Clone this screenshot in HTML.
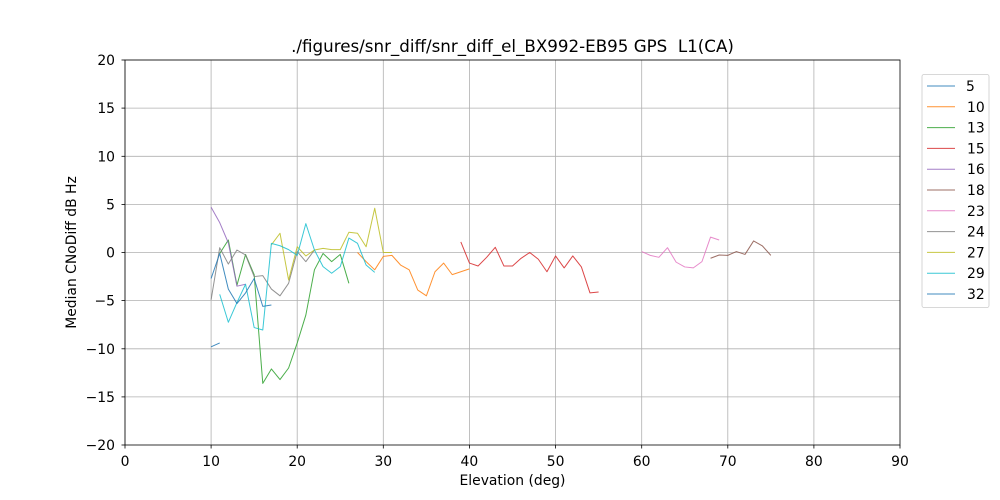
<!DOCTYPE html>
<html><head><meta charset="utf-8"><style>
html,body{margin:0;padding:0;background:#fff;}
svg{display:block;font-family:"DejaVu Sans","Liberation Sans",sans-serif;}
</style></head><body>
<svg width="1000" height="500" viewBox="0 0 1000 500" xmlns="http://www.w3.org/2000/svg">
<rect width="1000" height="500" fill="#fff"/>
<g stroke="#b0b0b0" stroke-width="0.8">
<line x1="125" y1="60" x2="125" y2="445"/>
<line x1="211.1" y1="60" x2="211.1" y2="445"/>
<line x1="297.2" y1="60" x2="297.2" y2="445"/>
<line x1="383.3" y1="60" x2="383.3" y2="445"/>
<line x1="469.4" y1="60" x2="469.4" y2="445"/>
<line x1="555.6" y1="60" x2="555.6" y2="445"/>
<line x1="641.7" y1="60" x2="641.7" y2="445"/>
<line x1="727.8" y1="60" x2="727.8" y2="445"/>
<line x1="813.9" y1="60" x2="813.9" y2="445"/>
<line x1="125" y1="60" x2="900" y2="60"/>
<line x1="125" y1="108.1" x2="900" y2="108.1"/>
<line x1="125" y1="156.3" x2="900" y2="156.3"/>
<line x1="125" y1="204.4" x2="900" y2="204.4"/>
<line x1="125" y1="252.5" x2="900" y2="252.5"/>
<line x1="125" y1="300.6" x2="900" y2="300.6"/>
<line x1="125" y1="348.8" x2="900" y2="348.8"/>
<line x1="125" y1="396.9" x2="900" y2="396.9"/>
</g>
<g transform="translate(125,252.5) scale(8.6111,-9.625)" fill="none" stroke-width="1" stroke-opacity="0.85" stroke-linejoin="round">
<polyline vector-effect="non-scaling-stroke" stroke="#1f77b4" points="10,-9.8 11,-9.4"/>
<polyline vector-effect="non-scaling-stroke" stroke="#ff7f0e" points="27,0 28,-0.95 29,-1.8 30,-0.4 31,-0.3 32,-1.3 33,-1.8 34,-3.9 35,-4.5 36,-2.0 37,-1.1 38,-2.3 39,-2.0 40,-1.7"/>
<polyline vector-effect="non-scaling-stroke" stroke="#2ca02c" points="11,-0.1 12,1.3 13,-3.4 14,-0.2 15,-2.3 16,-13.6 17,-12.1 18,-13.2 19,-12.0 20,-9.4 21,-6.5 22,-1.8 23,-0.1 24,-0.95 25,-0.2 26,-3.2"/>
<polyline vector-effect="non-scaling-stroke" stroke="#d62728" points="39,1.1 40,-1.1 41,-1.4 42,-0.5 43,0.54 44,-1.4 45,-1.4 46,-0.6 47,0 48,-0.7 49,-2.0 50,-0.36 51,-1.6 52,-0.36 53,-1.5 54,-4.2 55,-4.1"/>
<polyline vector-effect="non-scaling-stroke" stroke="#9467bd" points="10,4.7 11,3.1 12,1.0 13,-3.5 14,-3.3"/>
<polyline vector-effect="non-scaling-stroke" stroke="#8c564b" points="68,-0.6 69,-0.26 70,-0.3 71,0.1 72,-0.2 73,1.2 74,0.7 75,-0.3"/>
<polyline vector-effect="non-scaling-stroke" stroke="#e377c2" points="60,0.1 61,-0.3 62,-0.5 63,0.5 64,-1.0 65,-1.5 66,-1.6 67,-0.95 68,1.6 69,1.3"/>
<polyline vector-effect="non-scaling-stroke" stroke="#7f7f7f" points="10,-4.9 11,0.5 12,-1.2 13,0.26 14,-0.26 15,-2.5 16,-2.4 17,-3.8 18,-4.5 19,-3.2 20,0.1 21,-0.95 22,0.26"/>
<polyline vector-effect="non-scaling-stroke" stroke="#bcbd22" points="17,0.8 18,2.0 19,-2.86 20,0.6 21,-0.36 22,0.26 23,0.43 24,0.3 25,0.3 26,2.1 27,2.0 28,0.6 29,4.6 30,0 31,0"/>
<polyline vector-effect="non-scaling-stroke" stroke="#17becf" points="11,-4.35 12,-7.25 13,-5.2 14,-3.3 15,-7.8 16,-8.05 17,0.95 18,0.7 19,0.3 20,-0.3 21,3.0 22,0.26 23,-1.47 24,-2.16 25,-1.47 26,1.5 27,0.95 28,-1.3 29,-2.06"/>
<polyline vector-effect="non-scaling-stroke" stroke="#1f77b4" points="10,-2.7 11,-0.1 12,-3.8 13,-5.3 14,-4.2 15,-2.7 16,-5.6 17,-5.45"/>
</g>
<rect x="125" y="60" width="775" height="385" fill="none" stroke="#000" stroke-width="0.8"/>
<g stroke="#000" stroke-width="0.8">
<line x1="125" y1="445" x2="125" y2="448.5"/>
<line x1="211.1" y1="445" x2="211.1" y2="448.5"/>
<line x1="297.2" y1="445" x2="297.2" y2="448.5"/>
<line x1="383.3" y1="445" x2="383.3" y2="448.5"/>
<line x1="469.4" y1="445" x2="469.4" y2="448.5"/>
<line x1="555.6" y1="445" x2="555.6" y2="448.5"/>
<line x1="641.7" y1="445" x2="641.7" y2="448.5"/>
<line x1="727.8" y1="445" x2="727.8" y2="448.5"/>
<line x1="813.9" y1="445" x2="813.9" y2="448.5"/>
<line x1="900" y1="445" x2="900" y2="448.5"/>
<line x1="121.5" y1="60" x2="125" y2="60"/>
<line x1="121.5" y1="108.1" x2="125" y2="108.1"/>
<line x1="121.5" y1="156.3" x2="125" y2="156.3"/>
<line x1="121.5" y1="204.4" x2="125" y2="204.4"/>
<line x1="121.5" y1="252.5" x2="125" y2="252.5"/>
<line x1="121.5" y1="300.6" x2="125" y2="300.6"/>
<line x1="121.5" y1="348.8" x2="125" y2="348.8"/>
<line x1="121.5" y1="396.9" x2="125" y2="396.9"/>
<line x1="121.5" y1="445" x2="125" y2="445"/>
</g>
<g font-size="13.9" fill="#000" text-anchor="middle">
<text x="125" y="466">0</text>
<text x="211.1" y="466">10</text>
<text x="297.2" y="466">20</text>
<text x="383.3" y="466">30</text>
<text x="469.4" y="466">40</text>
<text x="555.6" y="466">50</text>
<text x="641.7" y="466">60</text>
<text x="727.8" y="466">70</text>
<text x="813.9" y="466">80</text>
<text x="900" y="466">90</text>
</g>
<g font-size="13.9" fill="#000" text-anchor="end">
<text x="115" y="65">20</text>
<text x="115" y="113.1">15</text>
<text x="115" y="161.3">10</text>
<text x="115" y="209.4">5</text>
<text x="115" y="257.5">0</text>
<text x="115" y="305.6">−5</text>
<text x="115" y="353.8">−10</text>
<text x="115" y="401.9">−15</text>
<text x="115" y="450">−20</text>
</g>
<text x="512.5" y="485" font-size="13.9" text-anchor="middle">Elevation (deg)</text>
<text transform="translate(76,252.5) rotate(-90)" font-size="13.9" text-anchor="middle">Median CNoDiff dB Hz</text>
<text x="512.5" y="52" font-size="16.7" text-anchor="middle" style="white-space:pre" xml:space="preserve">./figures/snr_diff/snr_diff_el_BX992-EB95 GPS  L1(CA)</text>
<rect x="922" y="74.5" width="67" height="233" rx="2" fill="#fff" fill-opacity="0.8" stroke="#cccccc" stroke-width="0.8"/>
<g stroke-width="1" stroke-opacity="0.85">
<line x1="927" y1="86" x2="955" y2="86" stroke="#1f77b4"/>
<line x1="927" y1="106.8" x2="955" y2="106.8" stroke="#ff7f0e"/>
<line x1="927" y1="127.6" x2="955" y2="127.6" stroke="#2ca02c"/>
<line x1="927" y1="148.4" x2="955" y2="148.4" stroke="#d62728"/>
<line x1="927" y1="169.2" x2="955" y2="169.2" stroke="#9467bd"/>
<line x1="927" y1="190" x2="955" y2="190" stroke="#8c564b"/>
<line x1="927" y1="210.8" x2="955" y2="210.8" stroke="#e377c2"/>
<line x1="927" y1="231.6" x2="955" y2="231.6" stroke="#7f7f7f"/>
<line x1="927" y1="252.4" x2="955" y2="252.4" stroke="#bcbd22"/>
<line x1="927" y1="273.2" x2="955" y2="273.2" stroke="#17becf"/>
<line x1="927" y1="294" x2="955" y2="294" stroke="#1f77b4"/>
</g>
<g font-size="13.9" fill="#000">
<text x="966" y="91">5</text>
<text x="967" y="111.8">10</text>
<text x="967" y="132.6">13</text>
<text x="967" y="153.4">15</text>
<text x="967" y="174.2">16</text>
<text x="967" y="195">18</text>
<text x="967" y="215.8">23</text>
<text x="967" y="236.6">24</text>
<text x="967" y="257.4">27</text>
<text x="967" y="278.2">29</text>
<text x="967" y="299">32</text>
</g>
</svg>
</body></html>
